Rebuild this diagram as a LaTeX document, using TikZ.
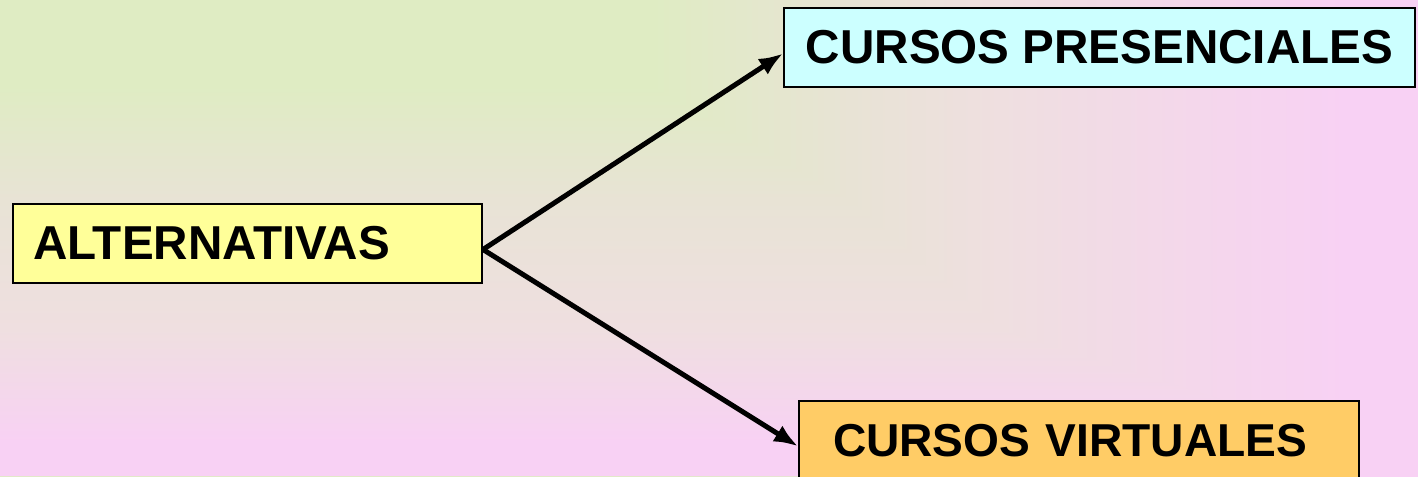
\documentclass[tikz,border=0pt]{standalone}
\usepackage{fontspec}
\setmainfont{Liberation Sans}
\usetikzlibrary{arrows.meta}
\newlength{\pix}
\setlength{\pix}{0.75pt}
\definecolor{bggreen}{HTML}{DFECC3}
\definecolor{bgmid}{HTML}{E8E3D5}
\definecolor{bgrose}{HTML}{EFDFE0}
\definecolor{bgpink}{HTML}{F8D1F4}
\definecolor{altyellow}{HTML}{FFFF99}
\definecolor{prescyan}{HTML}{CCFFFF}
\definecolor{virtorange}{HTML}{FFCC66}
\pgfdeclarehorizontalshading{bgacross}{100bp}{color(0bp)=(bggreen); color(48bp)=(bggreen);
    color(55bp)=(bgmid); color(60.25bp)=(bgrose); color(72.5bp)=(bgpink); color(100bp)=(bgpink)}
\pgfdeclareverticalshading{bgdown}{100bp}{color(0bp)=(bgpink); color(28.5bp)=(bgpink);
    color(40.5bp)=(bgrose); color(54bp)=(bgmid); color(66bp)=(bggreen); color(100bp)=(bggreen)}
\begin{document}
\begin{tikzpicture}[x=0.75pt, y=-0.75pt,
        box/.style={draw, line width=2\pix, minimum height=79\pix, inner ysep=0pt,
            anchor=north west, align=left, font=\fontsize{35.7pt}{42pt}\selectfont\bfseries},
        link/.style={line width=5\pix, -{Latex[length=18pt,width=14pt]}}]
    \useasboundingbox (0,0) rectangle (1418,476);
    \clip (0,0) rectangle (1418,476);
    \shade[shading=bgacross] (0,0) rectangle (1418,476);
    \begin{scope}
        \clip (0,0) -- (650,85) -- (850,200) -- (1000,330) -- (1350,440) -- (1418,476) -- (0,476) -- cycle;
        \shade[shading=bgdown] (0,0) rectangle (1418,476);
    \end{scope}
    \node[box, fill=altyellow, text width=429\pix, inner xsep=20\pix] (alt) at (12,203) {ALTERNATIVAS};
    \node[box, fill=prescyan, minimum width=631\pix] (pres) at (783,7) {CURSOS PRESENCIALES};
    \node[box, fill=virtorange, text width=492\pix, inner xsep=34\pix, minimum height=80\pix,
        font=\fontsize{34.6pt}{41pt}\selectfont\bfseries] (virt) at (798,400) {CURSOS VIRTUALES};
    \draw[link] ([yshift=-4.5pt]alt.east) -- ([yshift=-4.5pt]pres.west);
    \draw[link] ([yshift=-4.5pt]alt.east) -- ([yshift=-4pt]virt.west);
\end{tikzpicture}
\end{document}
